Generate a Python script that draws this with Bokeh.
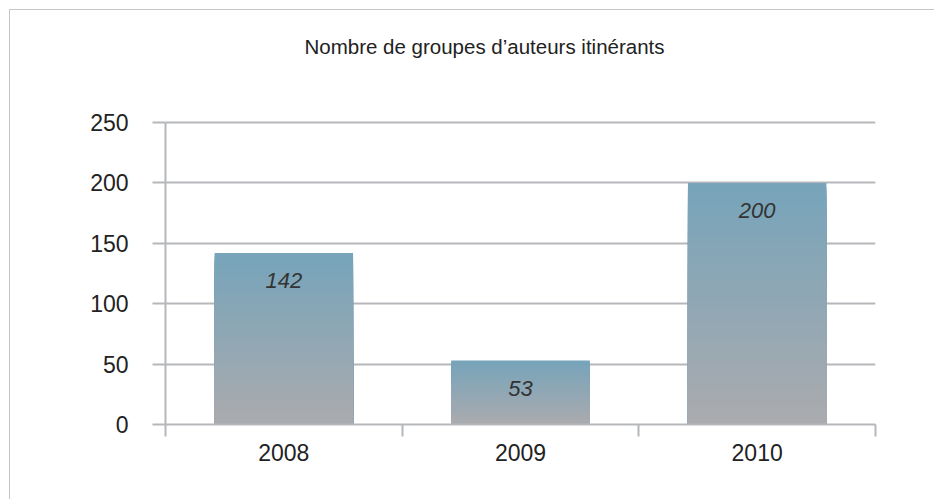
from bokeh.plotting import figure
from bokeh.models import Range1d, FixedTicker, ColumnDataSource, Label
from bokeh.core.properties import value
from bokeh.embed import file_html
from bokeh.resources import INLINE

# ---- data ----
years = ["2008", "2009", "2010"]
counts = [142, 53, 200]
y_ticks = [0, 50, 100, 150, 200, 250]
title_text = "Nombre de groupes d\u2019auteurs itinérants"

FONT = "Liberation Sans"
GRID = "#b5b7ba"
TOP_RGB = (119, 164, 186)
BOT_RGB = (171, 171, 174)

# layout (pixels)
CANVAS_W, CANVAS_H = 925, 490
MB_LEFT, MB_RIGHT, MB_TOP, MB_BOTTOM = 155, 60, 10, 76
AXIS_PX = 302            # pixel height of the 0..250 scale
frame_h = CANVAS_H - MB_TOP - MB_BOTTOM
frame_w = CANVAS_W - MB_LEFT - MB_RIGHT
y_top = y_ticks[-1] * frame_h / AXIS_PX   # room above 250 for the title
units_per_px = y_ticks[-1] / AXIS_PX

p = figure(width=CANVAS_W, height=CANVAS_H, output_backend="svg", toolbar_location=None,
           x_range=Range1d(0, len(years)), y_range=Range1d(0, y_top),
           min_border_left=MB_LEFT, min_border_right=MB_RIGHT, min_border_top=MB_TOP,
           min_border_bottom=MB_BOTTOM)
p.styles = {"border-left": "1px solid #c6c6c6", "border-top": "1px solid #c6c6c6",
            "margin-left": "9px", "margin-top": "9px"}
p.outline_line_color = None
p.background_fill_color = "white"
p.border_fill_color = "white"

xs = [i + 0.5 for i in range(len(years))]

# gradient bars: stacked shrinking bars with colours from top to bottom
N = 60
for k in range(N):
    f = (N - k) / N
    c = tuple(int(round(BOT_RGB[j] + (TOP_RGB[j] - BOT_RGB[j]) * f)) for j in range(3))
    col = "#%02x%02x%02x" % c
    p.vbar(x=xs, top=[v * f for v in counts], bottom=0, width=0.585,
           fill_color=col, line_color=None)

# value labels
src = ColumnDataSource(dict(x=xs, y=counts, t=[str(v) for v in counts]))
p.text(x="x", y="y", text="t", source=src, y_offset=28,
       text_align="center", text_baseline="middle",
       text_font=value(FONT), text_font_style="italic",
       text_font_size="22px", text_color="#333333")

# title: 76 px above the 250 line, 36 px left of the frame centre
p.add_layout(Label(x=len(years) / 2 - 36 * len(years) / frame_w,
                   y=y_ticks[-1] + 76 * units_per_px,
                   text=title_text, text_align="center", text_baseline="middle",
                   text_font=FONT, text_font_size="20.5px", text_color="#222222"))

# grid
p.xgrid.visible = False
p.ygrid.ticker = FixedTicker(ticks=y_ticks)
p.ygrid.grid_line_color = GRID
p.ygrid.grid_line_width = 2
p.ygrid.level = "underlay"

# y axis
ya = p.yaxis[0]
ya.ticker = FixedTicker(ticks=y_ticks)
ya.bounds = (y_ticks[0], y_ticks[-1])
ya.axis_line_color = GRID
ya.axis_line_width = 2
ya.major_tick_line_color = GRID
ya.major_tick_line_width = 2
ya.major_tick_out = 13
ya.major_tick_in = 0
ya.minor_tick_line_color = None
ya.major_label_standoff = 24
ya.major_label_text_font = FONT
ya.major_label_text_font_size = "23px"
ya.major_label_text_color = "#222222"

# x axis
xa = p.xaxis[0]
xa.ticker = FixedTicker(ticks=xs, minor_ticks=[0, 1, 2, 3])
xa.major_label_overrides = {x: y for x, y in zip(xs, years)}
xa.axis_line_color = GRID
xa.axis_line_width = 2
xa.major_tick_line_color = None
xa.major_tick_out = 0
xa.major_tick_in = 0
xa.minor_tick_line_color = GRID
xa.minor_tick_line_width = 2
xa.minor_tick_out = 12
xa.minor_tick_in = 0
xa.major_label_standoff = 7
xa.major_label_text_font = FONT
xa.major_label_text_font_size = "23px"
xa.major_label_text_color = "#222222"

open("out.html", "w").write(file_html(p, INLINE))
